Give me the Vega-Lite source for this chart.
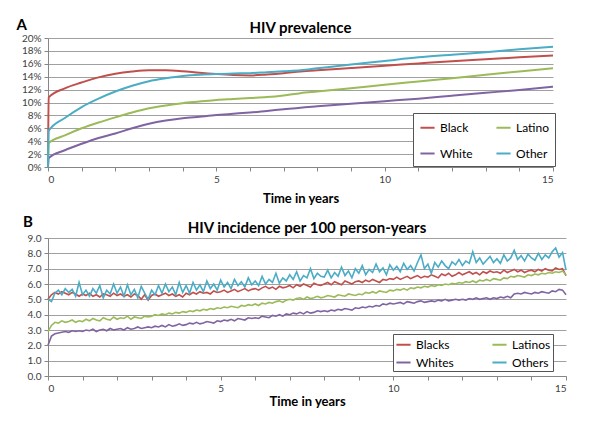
{
  "$schema": "https://vega.github.io/schema/vega-lite/v6.json",
  "padding": {"left": 16, "top": 18, "right": 5, "bottom": 5},
  "background": "white",
  "config": {
    "font": "Lato",
    "view": {"stroke": null},
    "axis": {
      "labelFont": "Lato", "labelFontSize": 10, "labelColor": "#404040",
      "titleFont": "Lato", "titleFontSize": 13, "titleFontWeight": "bold", "titleColor": "#000000",
      "domainColor": "#868686", "tickColor": "#868686", "gridColor": "#A0A0A0", "tickSize": 4, "labelPadding": 3
    },
    "title": {"font": "Lato", "fontSize": 15, "fontWeight": "bold", "color": "#000000"},
    "legend": {
      "labelFont": "Lato", "labelFontSize": 12, "labelColor": "#000000",
      "symbolType": "stroke", "symbolStrokeWidth": 2, "symbolSize": 200,
      "fillColor": "white", "strokeColor": "#555555", "direction": "horizontal"
    }
  },
  "datasets": {
    "prev": [
      {"t":0,"g":"Black","v":0},{"t":0.02,"g":"Black","v":10.8},{"t":0.5,"g":"Black","v":12.2},{"t":1,"g":"Black","v":13.1},{"t":1.5,"g":"Black","v":13.9},{"t":2,"g":"Black","v":14.45},{"t":2.5,"g":"Black","v":14.8},{"t":3,"g":"Black","v":15.0},{"t":3.5,"g":"Black","v":15.0},{"t":4,"g":"Black","v":14.85},{"t":4.5,"g":"Black","v":14.6},{"t":5,"g":"Black","v":14.4},{"t":5.5,"g":"Black","v":14.25},{"t":6,"g":"Black","v":14.2},{"t":6.5,"g":"Black","v":14.35},{"t":7,"g":"Black","v":14.55},{"t":7.5,"g":"Black","v":14.8},{"t":8,"g":"Black","v":15.0},{"t":9,"g":"Black","v":15.35},{"t":10,"g":"Black","v":15.7},{"t":11,"g":"Black","v":16.05},{"t":12,"g":"Black","v":16.4},{"t":13,"g":"Black","v":16.7},{"t":14,"g":"Black","v":17.0},{"t":15,"g":"Black","v":17.3},
      {"t":0,"g":"Latino","v":0},{"t":0.02,"g":"Latino","v":3.7},{"t":0.5,"g":"Latino","v":4.9},{"t":1,"g":"Latino","v":6.0},{"t":1.5,"g":"Latino","v":6.9},{"t":2,"g":"Latino","v":7.7},{"t":2.5,"g":"Latino","v":8.45},{"t":3,"g":"Latino","v":9.1},{"t":3.5,"g":"Latino","v":9.55},{"t":4,"g":"Latino","v":9.9},{"t":4.5,"g":"Latino","v":10.15},{"t":5,"g":"Latino","v":10.4},{"t":5.5,"g":"Latino","v":10.55},{"t":6,"g":"Latino","v":10.7},{"t":6.5,"g":"Latino","v":10.85},{"t":7,"g":"Latino","v":11.1},{"t":7.5,"g":"Latino","v":11.45},{"t":8,"g":"Latino","v":11.7},{"t":9,"g":"Latino","v":12.2},{"t":10,"g":"Latino","v":12.75},{"t":11,"g":"Latino","v":13.25},{"t":12,"g":"Latino","v":13.75},{"t":13,"g":"Latino","v":14.3},{"t":14,"g":"Latino","v":14.8},{"t":15,"g":"Latino","v":15.3},
      {"t":0,"g":"White","v":0},{"t":0.02,"g":"White","v":1.4},{"t":0.5,"g":"White","v":2.6},{"t":1,"g":"White","v":3.6},{"t":1.5,"g":"White","v":4.5},{"t":2,"g":"White","v":5.2},{"t":2.5,"g":"White","v":6.0},{"t":3,"g":"White","v":6.7},{"t":3.5,"g":"White","v":7.2},{"t":4,"g":"White","v":7.55},{"t":4.5,"g":"White","v":7.8},{"t":5,"g":"White","v":8.05},{"t":5.5,"g":"White","v":8.25},{"t":6,"g":"White","v":8.45},{"t":6.5,"g":"White","v":8.7},{"t":7,"g":"White","v":8.95},{"t":7.5,"g":"White","v":9.2},{"t":8,"g":"White","v":9.4},{"t":9,"g":"White","v":9.8},{"t":10,"g":"White","v":10.2},{"t":11,"g":"White","v":10.6},{"t":12,"g":"White","v":11.05},{"t":13,"g":"White","v":11.5},{"t":14,"g":"White","v":11.95},{"t":15,"g":"White","v":12.45},
      {"t":0,"g":"Other","v":0},{"t":0.02,"g":"Other","v":5.6},{"t":0.5,"g":"Other","v":7.6},{"t":1,"g":"Other","v":9.3},{"t":1.5,"g":"Other","v":10.6},{"t":2,"g":"Other","v":11.7},{"t":2.5,"g":"Other","v":12.6},{"t":3,"g":"Other","v":13.3},{"t":3.5,"g":"Other","v":13.75},{"t":4,"g":"Other","v":14.1},{"t":4.5,"g":"Other","v":14.3},{"t":5,"g":"Other","v":14.4},{"t":5.5,"g":"Other","v":14.5},{"t":6,"g":"Other","v":14.55},{"t":6.5,"g":"Other","v":14.7},{"t":7,"g":"Other","v":14.85},{"t":7.5,"g":"Other","v":15.0},{"t":8,"g":"Other","v":15.3},{"t":9,"g":"Other","v":15.9},{"t":10,"g":"Other","v":16.45},{"t":11,"g":"Other","v":17.0},{"t":12,"g":"Other","v":17.4},{"t":13,"g":"Other","v":17.8},{"t":14,"g":"Other","v":18.25},{"t":15,"g":"Other","v":18.65}
    ],
    "inc": [
      {"t":0,"g":"Blacks","v":5.0},{"t":0.1,"g":"Blacks","v":5.3},{"t":0.2,"g":"Blacks","v":5.45},{"t":0.3,"g":"Blacks","v":5.35},{"t":0.4,"g":"Blacks","v":5.5},{"t":0.5,"g":"Blacks","v":5.4},{"t":0.6,"g":"Blacks","v":5.3},{"t":0.7,"g":"Blacks","v":5.45},{"t":0.8,"g":"Blacks","v":5.35},{"t":0.9,"g":"Blacks","v":5.2},
      {"t":1,"g":"Blacks","v":5.35},{"t":1.1,"g":"Blacks","v":5.25},{"t":1.2,"g":"Blacks","v":5.4},{"t":1.3,"g":"Blacks","v":5.2},{"t":1.4,"g":"Blacks","v":5.3},{"t":1.5,"g":"Blacks","v":5.15},{"t":1.6,"g":"Blacks","v":5.35},{"t":1.7,"g":"Blacks","v":5.3},{"t":1.8,"g":"Blacks","v":5.2},{"t":1.9,"g":"Blacks","v":5.4},
      {"t":2,"g":"Blacks","v":5.25},{"t":2.1,"g":"Blacks","v":5.35},{"t":2.2,"g":"Blacks","v":5.2},{"t":2.3,"g":"Blacks","v":5.3},{"t":2.4,"g":"Blacks","v":5.15},{"t":2.5,"g":"Blacks","v":5.35},{"t":2.6,"g":"Blacks","v":5.25},{"t":2.7,"g":"Blacks","v":5.0},{"t":2.8,"g":"Blacks","v":5.3},{"t":2.9,"g":"Blacks","v":4.95},
      {"t":3,"g":"Blacks","v":5.25},{"t":3.1,"g":"Blacks","v":5.35},{"t":3.2,"g":"Blacks","v":5.2},{"t":3.3,"g":"Blacks","v":5.3},{"t":3.4,"g":"Blacks","v":5.4},{"t":3.5,"g":"Blacks","v":5.25},{"t":3.6,"g":"Blacks","v":5.35},{"t":3.7,"g":"Blacks","v":5.2},{"t":3.8,"g":"Blacks","v":5.3},{"t":3.9,"g":"Blacks","v":5.15},
      {"t":4,"g":"Blacks","v":5.4},{"t":4.1,"g":"Blacks","v":5.3},{"t":4.2,"g":"Blacks","v":5.45},{"t":4.3,"g":"Blacks","v":5.35},{"t":4.4,"g":"Blacks","v":5.5},{"t":4.5,"g":"Blacks","v":5.4},{"t":4.6,"g":"Blacks","v":5.45},{"t":4.7,"g":"Blacks","v":5.35},{"t":4.8,"g":"Blacks","v":5.55},{"t":4.9,"g":"Blacks","v":5.45},
      {"t":5,"g":"Blacks","v":5.5},{"t":5.1,"g":"Blacks","v":5.6},{"t":5.2,"g":"Blacks","v":5.45},{"t":5.3,"g":"Blacks","v":5.55},{"t":5.4,"g":"Blacks","v":5.65},{"t":5.5,"g":"Blacks","v":5.5},{"t":5.6,"g":"Blacks","v":5.6},{"t":5.7,"g":"Blacks","v":5.7},{"t":5.8,"g":"Blacks","v":5.55},{"t":5.9,"g":"Blacks","v":5.65},
      {"t":6,"g":"Blacks","v":5.7},{"t":6.1,"g":"Blacks","v":5.6},{"t":6.2,"g":"Blacks","v":5.75},{"t":6.3,"g":"Blacks","v":5.85},{"t":6.4,"g":"Blacks","v":5.7},{"t":6.5,"g":"Blacks","v":5.8},{"t":6.6,"g":"Blacks","v":5.65},{"t":6.7,"g":"Blacks","v":5.85},{"t":6.8,"g":"Blacks","v":5.75},{"t":6.9,"g":"Blacks","v":5.8},
      {"t":7,"g":"Blacks","v":5.9},{"t":7.1,"g":"Blacks","v":5.75},{"t":7.2,"g":"Blacks","v":5.95},{"t":7.3,"g":"Blacks","v":5.85},{"t":7.4,"g":"Blacks","v":6.0},{"t":7.5,"g":"Blacks","v":5.9},{"t":7.6,"g":"Blacks","v":5.8},{"t":7.7,"g":"Blacks","v":6.05},{"t":7.8,"g":"Blacks","v":5.95},{"t":7.9,"g":"Blacks","v":5.9},
      {"t":8,"g":"Blacks","v":6.0},{"t":8.1,"g":"Blacks","v":6.1},{"t":8.2,"g":"Blacks","v":5.95},{"t":8.3,"g":"Blacks","v":6.15},{"t":8.4,"g":"Blacks","v":6.05},{"t":8.5,"g":"Blacks","v":5.95},{"t":8.6,"g":"Blacks","v":6.2},{"t":8.7,"g":"Blacks","v":6.1},{"t":8.8,"g":"Blacks","v":6.0},{"t":8.9,"g":"Blacks","v":6.15},
      {"t":9,"g":"Blacks","v":6.2},{"t":9.1,"g":"Blacks","v":6.1},{"t":9.2,"g":"Blacks","v":6.25},{"t":9.3,"g":"Blacks","v":6.15},{"t":9.4,"g":"Blacks","v":6.3},{"t":9.5,"g":"Blacks","v":6.2},{"t":9.6,"g":"Blacks","v":6.1},{"t":9.7,"g":"Blacks","v":6.3},{"t":9.8,"g":"Blacks","v":6.25},{"t":9.9,"g":"Blacks","v":6.35},
      {"t":10,"g":"Blacks","v":6.3},{"t":10.1,"g":"Blacks","v":6.45},{"t":10.2,"g":"Blacks","v":6.3},{"t":10.3,"g":"Blacks","v":6.4},{"t":10.4,"g":"Blacks","v":6.5},{"t":10.5,"g":"Blacks","v":6.35},{"t":10.6,"g":"Blacks","v":6.45},{"t":10.7,"g":"Blacks","v":6.55},{"t":10.8,"g":"Blacks","v":6.4},{"t":10.9,"g":"Blacks","v":6.5},
      {"t":11,"g":"Blacks","v":6.45},{"t":11.1,"g":"Blacks","v":6.6},{"t":11.2,"g":"Blacks","v":6.5},{"t":11.3,"g":"Blacks","v":6.4},{"t":11.4,"g":"Blacks","v":6.65},{"t":11.5,"g":"Blacks","v":6.55},{"t":11.6,"g":"Blacks","v":6.7},{"t":11.7,"g":"Blacks","v":6.5},{"t":11.8,"g":"Blacks","v":6.6},{"t":11.9,"g":"Blacks","v":6.75},
      {"t":12,"g":"Blacks","v":6.6},{"t":12.1,"g":"Blacks","v":6.7},{"t":12.2,"g":"Blacks","v":6.8},{"t":12.3,"g":"Blacks","v":6.65},{"t":12.4,"g":"Blacks","v":6.75},{"t":12.5,"g":"Blacks","v":6.6},{"t":12.6,"g":"Blacks","v":6.8},{"t":12.7,"g":"Blacks","v":6.7},{"t":12.8,"g":"Blacks","v":6.85},{"t":12.9,"g":"Blacks","v":6.75},
      {"t":13,"g":"Blacks","v":6.8},{"t":13.1,"g":"Blacks","v":6.7},{"t":13.2,"g":"Blacks","v":6.9},{"t":13.3,"g":"Blacks","v":6.75},{"t":13.4,"g":"Blacks","v":6.85},{"t":13.5,"g":"Blacks","v":6.95},{"t":13.6,"g":"Blacks","v":6.8},{"t":13.7,"g":"Blacks","v":6.9},{"t":13.8,"g":"Blacks","v":6.75},{"t":13.9,"g":"Blacks","v":6.85},
      {"t":14,"g":"Blacks","v":6.9},{"t":14.1,"g":"Blacks","v":6.8},{"t":14.2,"g":"Blacks","v":6.95},{"t":14.3,"g":"Blacks","v":6.85},{"t":14.4,"g":"Blacks","v":7.0},{"t":14.5,"g":"Blacks","v":6.9},{"t":14.6,"g":"Blacks","v":6.85},{"t":14.7,"g":"Blacks","v":7.05},{"t":14.8,"g":"Blacks","v":6.95},{"t":14.9,"g":"Blacks","v":7.0},{"t":15,"g":"Blacks","v":6.55},

      {"t":0,"g":"Latinos","v":2.9},{"t":0.1,"g":"Latinos","v":3.3},{"t":0.2,"g":"Latinos","v":3.5},{"t":0.3,"g":"Latinos","v":3.45},{"t":0.4,"g":"Latinos","v":3.6},{"t":0.5,"g":"Latinos","v":3.5},{"t":0.6,"g":"Latinos","v":3.55},{"t":0.7,"g":"Latinos","v":3.65},{"t":0.8,"g":"Latinos","v":3.5},{"t":0.9,"g":"Latinos","v":3.6},
      {"t":1,"g":"Latinos","v":3.55},{"t":1.1,"g":"Latinos","v":3.7},{"t":1.2,"g":"Latinos","v":3.6},{"t":1.3,"g":"Latinos","v":3.75},{"t":1.4,"g":"Latinos","v":3.65},{"t":1.5,"g":"Latinos","v":3.6},{"t":1.6,"g":"Latinos","v":3.8},{"t":1.7,"g":"Latinos","v":3.7},{"t":1.8,"g":"Latinos","v":3.65},{"t":1.9,"g":"Latinos","v":3.85},
      {"t":2,"g":"Latinos","v":3.7},{"t":2.1,"g":"Latinos","v":3.8},{"t":2.2,"g":"Latinos","v":3.75},{"t":2.3,"g":"Latinos","v":3.9},{"t":2.4,"g":"Latinos","v":3.7},{"t":2.5,"g":"Latinos","v":3.85},{"t":2.6,"g":"Latinos","v":3.8},{"t":2.7,"g":"Latinos","v":3.75},{"t":2.8,"g":"Latinos","v":3.9},{"t":2.9,"g":"Latinos","v":3.85},
      {"t":3,"g":"Latinos","v":3.9},{"t":3.1,"g":"Latinos","v":4.0},{"t":3.2,"g":"Latinos","v":3.95},{"t":3.3,"g":"Latinos","v":4.05},{"t":3.4,"g":"Latinos","v":4.0},{"t":3.5,"g":"Latinos","v":4.1},{"t":3.6,"g":"Latinos","v":4.05},{"t":3.7,"g":"Latinos","v":4.15},{"t":3.8,"g":"Latinos","v":4.1},{"t":3.9,"g":"Latinos","v":4.2},
      {"t":4,"g":"Latinos","v":4.15},{"t":4.1,"g":"Latinos","v":4.25},{"t":4.2,"g":"Latinos","v":4.2},{"t":4.3,"g":"Latinos","v":4.3},{"t":4.4,"g":"Latinos","v":4.25},{"t":4.5,"g":"Latinos","v":4.35},{"t":4.6,"g":"Latinos","v":4.3},{"t":4.7,"g":"Latinos","v":4.4},{"t":4.8,"g":"Latinos","v":4.35},{"t":4.9,"g":"Latinos","v":4.45},
      {"t":5,"g":"Latinos","v":4.4},{"t":5.1,"g":"Latinos","v":4.5},{"t":5.2,"g":"Latinos","v":4.45},{"t":5.3,"g":"Latinos","v":4.55},{"t":5.4,"g":"Latinos","v":4.5},{"t":5.5,"g":"Latinos","v":4.45},{"t":5.6,"g":"Latinos","v":4.6},{"t":5.7,"g":"Latinos","v":4.55},{"t":5.8,"g":"Latinos","v":4.65},{"t":5.9,"g":"Latinos","v":4.6},
      {"t":6,"g":"Latinos","v":4.7},{"t":6.1,"g":"Latinos","v":4.6},{"t":6.2,"g":"Latinos","v":4.75},{"t":6.3,"g":"Latinos","v":4.7},{"t":6.4,"g":"Latinos","v":4.8},{"t":6.5,"g":"Latinos","v":4.75},{"t":6.6,"g":"Latinos","v":4.85},{"t":6.7,"g":"Latinos","v":4.9},{"t":6.8,"g":"Latinos","v":4.8},{"t":6.9,"g":"Latinos","v":4.95},
      {"t":7,"g":"Latinos","v":5.0},{"t":7.1,"g":"Latinos","v":4.95},{"t":7.2,"g":"Latinos","v":5.05},{"t":7.3,"g":"Latinos","v":5.1},{"t":7.4,"g":"Latinos","v":5.0},{"t":7.5,"g":"Latinos","v":5.15},{"t":7.6,"g":"Latinos","v":5.05},{"t":7.7,"g":"Latinos","v":5.1},{"t":7.8,"g":"Latinos","v":5.2},{"t":7.9,"g":"Latinos","v":5.1},
      {"t":8,"g":"Latinos","v":5.15},{"t":8.1,"g":"Latinos","v":5.25},{"t":8.2,"g":"Latinos","v":5.2},{"t":8.3,"g":"Latinos","v":5.15},{"t":8.4,"g":"Latinos","v":5.3},{"t":8.5,"g":"Latinos","v":5.25},{"t":8.6,"g":"Latinos","v":5.2},{"t":8.7,"g":"Latinos","v":5.35},{"t":8.8,"g":"Latinos","v":5.3},{"t":8.9,"g":"Latinos","v":5.25},
      {"t":9,"g":"Latinos","v":5.35},{"t":9.1,"g":"Latinos","v":5.3},{"t":9.2,"g":"Latinos","v":5.45},{"t":9.3,"g":"Latinos","v":5.4},{"t":9.4,"g":"Latinos","v":5.5},{"t":9.5,"g":"Latinos","v":5.4},{"t":9.6,"g":"Latinos","v":5.55},{"t":9.7,"g":"Latinos","v":5.5},{"t":9.8,"g":"Latinos","v":5.45},{"t":9.9,"g":"Latinos","v":5.6},
      {"t":10,"g":"Latinos","v":5.55},{"t":10.1,"g":"Latinos","v":5.65},{"t":10.2,"g":"Latinos","v":5.6},{"t":10.3,"g":"Latinos","v":5.7},{"t":10.4,"g":"Latinos","v":5.6},{"t":10.5,"g":"Latinos","v":5.75},{"t":10.6,"g":"Latinos","v":5.7},{"t":10.7,"g":"Latinos","v":5.8},{"t":10.8,"g":"Latinos","v":5.75},{"t":10.9,"g":"Latinos","v":5.85},
      {"t":11,"g":"Latinos","v":5.8},{"t":11.1,"g":"Latinos","v":5.9},{"t":11.2,"g":"Latinos","v":5.85},{"t":11.3,"g":"Latinos","v":5.95},{"t":11.4,"g":"Latinos","v":5.9},{"t":11.5,"g":"Latinos","v":6.0},{"t":11.6,"g":"Latinos","v":5.95},{"t":11.7,"g":"Latinos","v":6.05},{"t":11.8,"g":"Latinos","v":6.0},{"t":11.9,"g":"Latinos","v":6.1},
      {"t":12,"g":"Latinos","v":6.05},{"t":12.1,"g":"Latinos","v":6.15},{"t":12.2,"g":"Latinos","v":6.1},{"t":12.3,"g":"Latinos","v":6.2},{"t":12.4,"g":"Latinos","v":6.1},{"t":12.5,"g":"Latinos","v":6.25},{"t":12.6,"g":"Latinos","v":6.2},{"t":12.7,"g":"Latinos","v":6.3},{"t":12.8,"g":"Latinos","v":6.2},{"t":12.9,"g":"Latinos","v":6.35},
      {"t":13,"g":"Latinos","v":6.3},{"t":13.1,"g":"Latinos","v":6.25},{"t":13.2,"g":"Latinos","v":6.4},{"t":13.3,"g":"Latinos","v":6.35},{"t":13.4,"g":"Latinos","v":6.5},{"t":13.5,"g":"Latinos","v":6.45},{"t":13.6,"g":"Latinos","v":6.55},{"t":13.7,"g":"Latinos","v":6.5},{"t":13.8,"g":"Latinos","v":6.45},{"t":13.9,"g":"Latinos","v":6.6},
      {"t":14,"g":"Latinos","v":6.55},{"t":14.1,"g":"Latinos","v":6.65},{"t":14.2,"g":"Latinos","v":6.6},{"t":14.3,"g":"Latinos","v":6.7},{"t":14.4,"g":"Latinos","v":6.65},{"t":14.5,"g":"Latinos","v":6.75},{"t":14.6,"g":"Latinos","v":6.7},{"t":14.7,"g":"Latinos","v":6.8},{"t":14.8,"g":"Latinos","v":6.75},{"t":14.9,"g":"Latinos","v":6.85},{"t":15,"g":"Latinos","v":6.6},

      {"t":0,"g":"Whites","v":2.0},{"t":0.1,"g":"Whites","v":2.6},{"t":0.2,"g":"Whites","v":2.75},{"t":0.3,"g":"Whites","v":2.8},{"t":0.4,"g":"Whites","v":2.85},{"t":0.5,"g":"Whites","v":2.9},{"t":0.6,"g":"Whites","v":2.85},{"t":0.7,"g":"Whites","v":2.95},{"t":0.8,"g":"Whites","v":2.9},{"t":0.9,"g":"Whites","v":2.95},
      {"t":1,"g":"Whites","v":2.9},{"t":1.1,"g":"Whites","v":3.0},{"t":1.2,"g":"Whites","v":2.95},{"t":1.3,"g":"Whites","v":3.05},{"t":1.4,"g":"Whites","v":2.9},{"t":1.5,"g":"Whites","v":3.0},{"t":1.6,"g":"Whites","v":3.05},{"t":1.7,"g":"Whites","v":2.95},{"t":1.8,"g":"Whites","v":3.1},{"t":1.9,"g":"Whites","v":3.0},
      {"t":2,"g":"Whites","v":3.05},{"t":2.1,"g":"Whites","v":3.1},{"t":2.2,"g":"Whites","v":3.0},{"t":2.3,"g":"Whites","v":3.15},{"t":2.4,"g":"Whites","v":3.05},{"t":2.5,"g":"Whites","v":3.1},{"t":2.6,"g":"Whites","v":3.2},{"t":2.7,"g":"Whites","v":3.1},{"t":2.8,"g":"Whites","v":3.15},{"t":2.9,"g":"Whites","v":3.2},
      {"t":3,"g":"Whites","v":3.15},{"t":3.1,"g":"Whites","v":3.25},{"t":3.2,"g":"Whites","v":3.2},{"t":3.3,"g":"Whites","v":3.3},{"t":3.4,"g":"Whites","v":3.2},{"t":3.5,"g":"Whites","v":3.35},{"t":3.6,"g":"Whites","v":3.25},{"t":3.7,"g":"Whites","v":3.3},{"t":3.8,"g":"Whites","v":3.4},{"t":3.9,"g":"Whites","v":3.3},
      {"t":4,"g":"Whites","v":3.35},{"t":4.1,"g":"Whites","v":3.45},{"t":4.2,"g":"Whites","v":3.4},{"t":4.3,"g":"Whites","v":3.5},{"t":4.4,"g":"Whites","v":3.4},{"t":4.5,"g":"Whites","v":3.45},{"t":4.6,"g":"Whites","v":3.55},{"t":4.7,"g":"Whites","v":3.5},{"t":4.8,"g":"Whites","v":3.45},{"t":4.9,"g":"Whites","v":3.6},
      {"t":5,"g":"Whites","v":3.55},{"t":5.1,"g":"Whites","v":3.65},{"t":5.2,"g":"Whites","v":3.6},{"t":5.3,"g":"Whites","v":3.7},{"t":5.4,"g":"Whites","v":3.6},{"t":5.5,"g":"Whites","v":3.75},{"t":5.6,"g":"Whites","v":3.7},{"t":5.7,"g":"Whites","v":3.65},{"t":5.8,"g":"Whites","v":3.8},{"t":5.9,"g":"Whites","v":3.75},
      {"t":6,"g":"Whites","v":3.8},{"t":6.1,"g":"Whites","v":3.75},{"t":6.2,"g":"Whites","v":3.9},{"t":6.3,"g":"Whites","v":3.85},{"t":6.4,"g":"Whites","v":3.8},{"t":6.5,"g":"Whites","v":3.95},{"t":6.6,"g":"Whites","v":3.9},{"t":6.7,"g":"Whites","v":4.0},{"t":6.8,"g":"Whites","v":3.9},{"t":6.9,"g":"Whites","v":4.05},
      {"t":7,"g":"Whites","v":4.0},{"t":7.1,"g":"Whites","v":4.1},{"t":7.2,"g":"Whites","v":4.05},{"t":7.3,"g":"Whites","v":4.15},{"t":7.4,"g":"Whites","v":4.05},{"t":7.5,"g":"Whites","v":4.2},{"t":7.6,"g":"Whites","v":4.1},{"t":7.7,"g":"Whites","v":4.15},{"t":7.8,"g":"Whites","v":4.25},{"t":7.9,"g":"Whites","v":4.2},
      {"t":8,"g":"Whites","v":4.25},{"t":8.1,"g":"Whites","v":4.2},{"t":8.2,"g":"Whites","v":4.3},{"t":8.3,"g":"Whites","v":4.25},{"t":8.4,"g":"Whites","v":4.35},{"t":8.5,"g":"Whites","v":4.3},{"t":8.6,"g":"Whites","v":4.4},{"t":8.7,"g":"Whites","v":4.35},{"t":8.8,"g":"Whites","v":4.3},{"t":8.9,"g":"Whites","v":4.45},
      {"t":9,"g":"Whites","v":4.4},{"t":9.1,"g":"Whites","v":4.5},{"t":9.2,"g":"Whites","v":4.45},{"t":9.3,"g":"Whites","v":4.55},{"t":9.4,"g":"Whites","v":4.5},{"t":9.5,"g":"Whites","v":4.6},{"t":9.6,"g":"Whites","v":4.55},{"t":9.7,"g":"Whites","v":4.7},{"t":9.8,"g":"Whites","v":4.65},{"t":9.9,"g":"Whites","v":4.75},
      {"t":10,"g":"Whites","v":4.7},{"t":10.1,"g":"Whites","v":4.75},{"t":10.2,"g":"Whites","v":4.8},{"t":10.3,"g":"Whites","v":4.7},{"t":10.4,"g":"Whites","v":4.85},{"t":10.5,"g":"Whites","v":4.8},{"t":10.6,"g":"Whites","v":4.75},{"t":10.7,"g":"Whites","v":4.85},{"t":10.8,"g":"Whites","v":4.9},{"t":10.9,"g":"Whites","v":4.8},
      {"t":11,"g":"Whites","v":4.85},{"t":11.1,"g":"Whites","v":4.9},{"t":11.2,"g":"Whites","v":4.85},{"t":11.3,"g":"Whites","v":4.95},{"t":11.4,"g":"Whites","v":4.9},{"t":11.5,"g":"Whites","v":5.0},{"t":11.6,"g":"Whites","v":4.9},{"t":11.7,"g":"Whites","v":4.95},{"t":11.8,"g":"Whites","v":5.0},{"t":11.9,"g":"Whites","v":4.95},
      {"t":12,"g":"Whites","v":5.0},{"t":12.1,"g":"Whites","v":4.95},{"t":12.2,"g":"Whites","v":5.05},{"t":12.3,"g":"Whites","v":5.0},{"t":12.4,"g":"Whites","v":5.1},{"t":12.5,"g":"Whites","v":5.0},{"t":12.6,"g":"Whites","v":5.05},{"t":12.7,"g":"Whites","v":5.1},{"t":12.8,"g":"Whites","v":5.0},{"t":12.9,"g":"Whites","v":5.1},
      {"t":13,"g":"Whites","v":5.05},{"t":13.1,"g":"Whites","v":5.15},{"t":13.2,"g":"Whites","v":5.1},{"t":13.3,"g":"Whites","v":5.2},{"t":13.4,"g":"Whites","v":5.1},{"t":13.5,"g":"Whites","v":5.35},{"t":13.6,"g":"Whites","v":5.4},{"t":13.7,"g":"Whites","v":5.35},{"t":13.8,"g":"Whites","v":5.45},{"t":13.9,"g":"Whites","v":5.4},
      {"t":14,"g":"Whites","v":5.35},{"t":14.1,"g":"Whites","v":5.45},{"t":14.2,"g":"Whites","v":5.4},{"t":14.3,"g":"Whites","v":5.5},{"t":14.4,"g":"Whites","v":5.45},{"t":14.5,"g":"Whites","v":5.4},{"t":14.6,"g":"Whites","v":5.55},{"t":14.7,"g":"Whites","v":5.5},{"t":14.8,"g":"Whites","v":5.65},{"t":14.9,"g":"Whites","v":5.6},{"t":15,"g":"Whites","v":5.3},

      {"t":0,"g":"Others","v":5.0},{"t":0.1,"g":"Others","v":4.85},{"t":0.2,"g":"Others","v":5.4},{"t":0.3,"g":"Others","v":5.6},{"t":0.4,"g":"Others","v":5.3},{"t":0.5,"g":"Others","v":5.7},{"t":0.6,"g":"Others","v":5.45},{"t":0.7,"g":"Others","v":5.65},{"t":0.8,"g":"Others","v":5.2},{"t":0.9,"g":"Others","v":6.1},
      {"t":1,"g":"Others","v":5.3},{"t":1.1,"g":"Others","v":5.6},{"t":1.2,"g":"Others","v":5.2},{"t":1.3,"g":"Others","v":5.7},{"t":1.4,"g":"Others","v":5.4},{"t":1.5,"g":"Others","v":5.9},{"t":1.6,"g":"Others","v":5.1},{"t":1.7,"g":"Others","v":5.6},{"t":1.8,"g":"Others","v":5.35},{"t":1.9,"g":"Others","v":6.0},
      {"t":2,"g":"Others","v":5.4},{"t":2.1,"g":"Others","v":5.8},{"t":2.2,"g":"Others","v":5.2},{"t":2.3,"g":"Others","v":5.95},{"t":2.4,"g":"Others","v":5.3},{"t":2.5,"g":"Others","v":5.65},{"t":2.6,"g":"Others","v":5.1},{"t":2.7,"g":"Others","v":5.85},{"t":2.8,"g":"Others","v":5.4},{"t":2.9,"g":"Others","v":5.0},
      {"t":3,"g":"Others","v":5.6},{"t":3.1,"g":"Others","v":5.3},{"t":3.2,"g":"Others","v":5.9},{"t":3.3,"g":"Others","v":5.4},{"t":3.4,"g":"Others","v":6.0},{"t":3.5,"g":"Others","v":5.5},{"t":3.6,"g":"Others","v":5.8},{"t":3.7,"g":"Others","v":5.3},{"t":3.8,"g":"Others","v":6.1},{"t":3.9,"g":"Others","v":5.45},
      {"t":4,"g":"Others","v":5.9},{"t":4.1,"g":"Others","v":5.4},{"t":4.2,"g":"Others","v":6.1},{"t":4.3,"g":"Others","v":5.6},{"t":4.4,"g":"Others","v":5.95},{"t":4.5,"g":"Others","v":5.5},{"t":4.6,"g":"Others","v":6.2},{"t":4.7,"g":"Others","v":5.7},{"t":4.8,"g":"Others","v":6.0},{"t":4.9,"g":"Others","v":5.6},
      {"t":5,"g":"Others","v":6.25},{"t":5.1,"g":"Others","v":5.8},{"t":5.2,"g":"Others","v":6.1},{"t":5.3,"g":"Others","v":5.7},{"t":5.4,"g":"Others","v":6.3},{"t":5.5,"g":"Others","v":5.9},{"t":5.6,"g":"Others","v":6.15},{"t":5.7,"g":"Others","v":5.8},{"t":5.8,"g":"Others","v":6.4},{"t":5.9,"g":"Others","v":5.95},
      {"t":6,"g":"Others","v":6.2},{"t":6.1,"g":"Others","v":5.9},{"t":6.2,"g":"Others","v":6.5},{"t":6.3,"g":"Others","v":6.0},{"t":6.4,"g":"Others","v":6.3},{"t":6.5,"g":"Others","v":6.1},{"t":6.6,"g":"Others","v":6.7},{"t":6.7,"g":"Others","v":6.05},{"t":6.8,"g":"Others","v":6.4},{"t":6.9,"g":"Others","v":6.2},
      {"t":7,"g":"Others","v":6.6},{"t":7.1,"g":"Others","v":6.3},{"t":7.2,"g":"Others","v":6.8},{"t":7.3,"g":"Others","v":6.2},{"t":7.4,"g":"Others","v":6.55},{"t":7.5,"g":"Others","v":6.4},{"t":7.6,"g":"Others","v":7.0},{"t":7.7,"g":"Others","v":6.35},{"t":7.8,"g":"Others","v":6.7},{"t":7.9,"g":"Others","v":6.5},
      {"t":8,"g":"Others","v":6.45},{"t":8.1,"g":"Others","v":6.9},{"t":8.2,"g":"Others","v":6.4},{"t":8.3,"g":"Others","v":6.75},{"t":8.4,"g":"Others","v":6.5},{"t":8.5,"g":"Others","v":7.1},{"t":8.6,"g":"Others","v":6.55},{"t":8.7,"g":"Others","v":6.85},{"t":8.8,"g":"Others","v":6.4},{"t":8.9,"g":"Others","v":7.0},
      {"t":9,"g":"Others","v":6.7},{"t":9.1,"g":"Others","v":7.2},{"t":9.2,"g":"Others","v":6.6},{"t":9.3,"g":"Others","v":6.95},{"t":9.4,"g":"Others","v":6.75},{"t":9.5,"g":"Others","v":7.3},{"t":9.6,"g":"Others","v":6.8},{"t":9.7,"g":"Others","v":7.05},{"t":9.8,"g":"Others","v":6.6},{"t":9.9,"g":"Others","v":7.25},
      {"t":10,"g":"Others","v":6.9},{"t":10.1,"g":"Others","v":7.15},{"t":10.2,"g":"Others","v":6.8},{"t":10.3,"g":"Others","v":7.35},{"t":10.4,"g":"Others","v":6.95},{"t":10.5,"g":"Others","v":7.2},{"t":10.6,"g":"Others","v":6.85},{"t":10.7,"g":"Others","v":7.4},{"t":10.8,"g":"Others","v":7.9},{"t":10.9,"g":"Others","v":7.0},
      {"t":11,"g":"Others","v":7.3},{"t":11.1,"g":"Others","v":6.7},{"t":11.2,"g":"Others","v":7.4},{"t":11.3,"g":"Others","v":7.1},{"t":11.4,"g":"Others","v":7.5},{"t":11.5,"g":"Others","v":7.2},{"t":11.6,"g":"Others","v":7.0},{"t":11.7,"g":"Others","v":7.45},{"t":11.8,"g":"Others","v":7.25},{"t":11.9,"g":"Others","v":7.6},
      {"t":12,"g":"Others","v":7.2},{"t":12.1,"g":"Others","v":7.5},{"t":12.2,"g":"Others","v":7.35},{"t":12.3,"g":"Others","v":8.1},{"t":12.4,"g":"Others","v":7.4},{"t":12.5,"g":"Others","v":7.7},{"t":12.6,"g":"Others","v":7.3},{"t":12.7,"g":"Others","v":7.55},{"t":12.8,"g":"Others","v":7.8},{"t":12.9,"g":"Others","v":7.4},
      {"t":13,"g":"Others","v":7.65},{"t":13.1,"g":"Others","v":7.35},{"t":13.2,"g":"Others","v":7.9},{"t":13.3,"g":"Others","v":7.5},{"t":13.4,"g":"Others","v":7.7},{"t":13.5,"g":"Others","v":8.2},{"t":13.6,"g":"Others","v":7.6},{"t":13.7,"g":"Others","v":7.85},{"t":13.8,"g":"Others","v":7.5},{"t":13.9,"g":"Others","v":7.95},
      {"t":14,"g":"Others","v":7.7},{"t":14.1,"g":"Others","v":7.55},{"t":14.2,"g":"Others","v":8.0},{"t":14.3,"g":"Others","v":7.6},{"t":14.4,"g":"Others","v":7.9},{"t":14.5,"g":"Others","v":7.7},{"t":14.6,"g":"Others","v":8.1},{"t":14.7,"g":"Others","v":8.35},{"t":14.8,"g":"Others","v":7.75},{"t":14.9,"g":"Others","v":8.05},{"t":15,"g":"Others","v":6.9}
    ]
  },
  "vconcat": [
    {
      "title": {"text": "A", "anchor": "start", "offset": -12, "dx": -5},
      "resolve": {"scale": {"color": "independent"}, "legend": {"color": "independent"}},
      "vconcat": [
        {
          "title": {"text": "HIV prevalence", "offset": -3},
          "width": 505,
          "height": 129,
          "data": {"name": "prev"},
          "mark": {"type": "line", "strokeWidth": 2, "interpolate": "monotone"},
          "encoding": {
            "x": {"field": "t", "type": "quantitative", "scale": {"domain": [0, 15], "nice": false, "zero": false},
                  "axis": {"title": "Time in years", "values": [0,1,2,3,4,5,6,7,8,9,10,11,12,13,14,15], "labelExpr": "datum.value % 5 === 0 ? datum.label : ''", "grid": false, "titlePadding": 8}},
            "y": {"field": "v", "type": "quantitative", "scale": {"domain": [0, 20], "nice": false},
                  "axis": {"title": null, "values": [0,2,4,6,8,10,12,14,16,18,20], "labelExpr": "datum.value + '%'", "grid": true, "minExtent": 26, "maxExtent": 26}},
            "color": {"field": "g", "type": "nominal", "sort": null,
                      "scale": {"domain": ["Black", "Latino", "White", "Other"], "range": ["#C0504D", "#9BBB59", "#8064A2", "#4BACC6"]},
                      "legend": {"title": null, "orient": "none", "legendX": 365, "legendY": 75, "columns": 2, "columnPadding": 19, "rowPadding": 11, "padding": 6}}
          }
        }
      ]
    },
    {
      "title": {"text": "B", "anchor": "start", "offset": -9, "dx": -4},
      "resolve": {"scale": {"color": "independent"}, "legend": {"color": "independent"}},
      "vconcat": [
        {
          "title": {"text": "HIV incidence per 100 person-years", "offset": -3},
          "width": 518,
          "height": 138,
          "data": {"name": "inc"},
          "mark": {"type": "line", "strokeWidth": 1.6},
          "encoding": {
            "x": {"field": "t", "type": "quantitative", "scale": {"domain": [0, 15], "nice": false, "zero": false},
                  "axis": {"title": "Time in years", "values": [0,1,2,3,4,5,6,7,8,9,10,11,12,13,14,15], "labelExpr": "datum.value % 5 === 0 ? datum.label : ''", "grid": false, "titlePadding": 2}},
            "y": {"field": "v", "type": "quantitative", "scale": {"domain": [0, 9], "nice": false},
                  "axis": {"title": null, "values": [0,1,2,3,4,5,6,7,8,9], "format": ".1f", "grid": true, "minExtent": 21, "maxExtent": 21}},
            "color": {"field": "g", "type": "nominal", "sort": null,
                      "scale": {"domain": ["Blacks", "Latinos", "Whites", "Others"], "range": ["#C0504D", "#9BBB59", "#8064A2", "#4BACC6"]},
                      "legend": {"title": null, "orient": "none", "legendX": 345, "legendY": 96, "columns": 2, "columnPadding": 34, "rowPadding": 3, "padding": 2}}
          }
        }
      ]
    }
  ],
  "spacing": 10,
  "resolve": {"scale": {"color": "independent", "x": "independent", "y": "independent"}, "legend": {"color": "independent"}}
}
